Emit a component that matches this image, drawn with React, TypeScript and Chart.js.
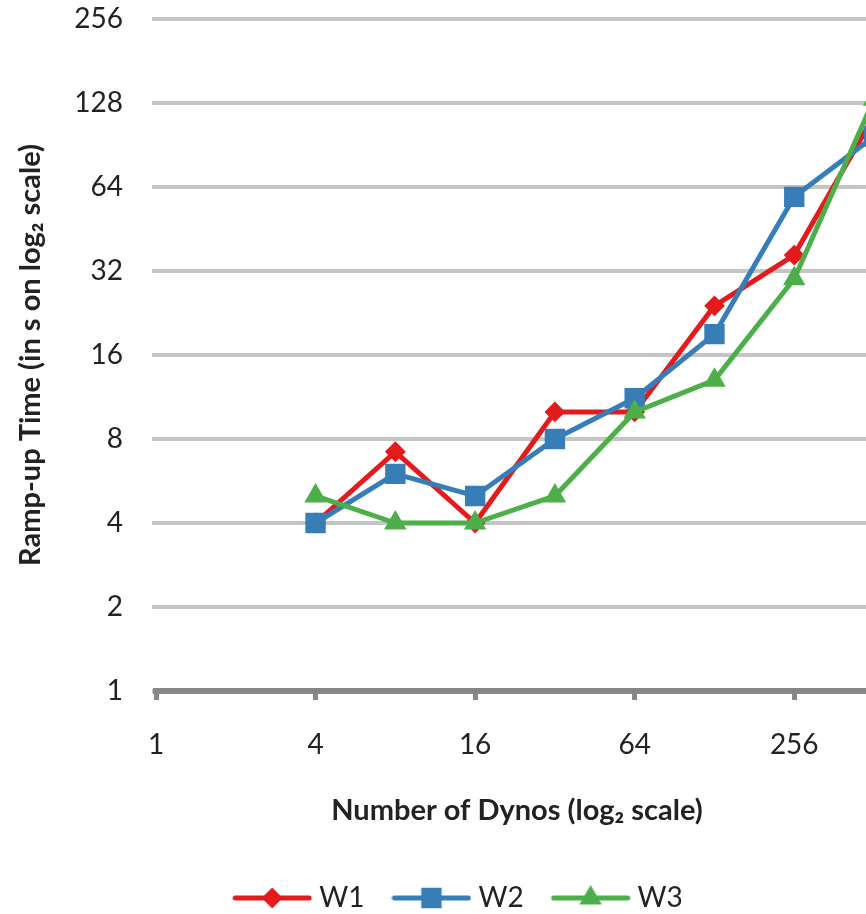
import React, { useEffect, useRef } from "react";
import { Chart, registerables } from "chart.js";
import { drawPoint } from "chart.js/helpers";

Chart.register(...registerables);

// ---- data ----
const dynos = [4, 8, 16, 32, 64, 128, 256, 512];
const w1 = [4, 7.2, 4, 10, 10, 24, 36.5, 115];
const w2 = [4, 6, 5, 8, 11.2, 19, 59, 97];
const w3 = [5, 4, 4, 5, 10, 13, 30, 132];
const seriesNames = ["W1", "W2", "W3"];
const xTicks = [1, 4, 16, 64, 256];
const yTicks = [1, 2, 4, 8, 16, 32, 64, 128, 256];

const RED = "#e41a1c";
const BLUE = "#377eb8";
const GREEN = "#4daf4a";
const TEXT = "#222222";

function makeIcon(color: string, style: string, radius: number) {
  const c = document.createElement("canvas");
  c.width = 80;
  c.height = 30;
  const ctx = c.getContext("2d")!;
  ctx.strokeStyle = color;
  ctx.fillStyle = color;
  ctx.lineWidth = 5;
  ctx.lineCap = "round";
  ctx.beginPath();
  ctx.moveTo(3, 15);
  ctx.lineTo(77, 15);
  ctx.stroke();
  ctx.lineWidth = 2;
  drawPoint(ctx, { pointStyle: style, radius, borderWidth: 2, rotation: 0 } as any, 40, 15);
  return c;
}

export default function App() {
  const ref = useRef<HTMLCanvasElement>(null);

  useEffect(() => {
    if (!ref.current) return;
    Chart.defaults.font.family = "Lato";
    const styles = [
      { color: RED, style: "rectRot", r: 9 },
      { color: BLUE, style: "rect", r: 13 },
      { color: GREEN, style: "triangle", r: 11 },
    ];
    const values = [w1, w2, w3];
    const icons = styles.map((s) => makeIcon(s.color, s.style, s.r));

    const chart = new Chart(ref.current, {
      type: "line",
      data: {
        datasets: values.map((vals, i) => ({
          label: seriesNames[i],
          data: dynos.map((x, j) => ({ x, y: vals[j] })),
          borderColor: styles[i].color,
          backgroundColor: styles[i].color,
          borderWidth: 5,
          borderJoinStyle: "round",
          borderCapStyle: "round",
          pointStyle: styles[i].style,
          pointRadius: styles[i].r,
          pointHoverRadius: styles[i].r,
          pointBackgroundColor: styles[i].color,
          pointBorderColor: styles[i].color,
          pointBorderWidth: 2,
          tension: 0,
          order: 3 - i,
        })) as any,
      },
      options: {
        animation: false,
        responsive: false,
        devicePixelRatio: 1,
        layout: { padding: { top: 19, left: 0, right: 0, bottom: 0 } },
        plugins: {
          tooltip: { enabled: false },
          legend: {
            position: "bottom",
            labels: {
              usePointStyle: true,
              pointStyleWidth: 66,
              padding: 34,
              color: TEXT,
              font: { size: 28, family: "Lato" },
              generateLabels: () =>
                seriesNames.map((n, i) => ({
                  text: n,
                  pointStyle: icons[i] as any,
                  fillStyle: styles[i].color,
                  strokeStyle: styles[i].color,
                  lineWidth: 0,
                  hidden: false,
                  datasetIndex: i,
                  fontColor: TEXT,
                })),
            },
          },
        },
        scales: {
          x: {
            type: "logarithmic",
            min: 1,
            max: 530,
            afterBuildTicks: (axis: any) => {
              axis.ticks = xTicks.map((v) => ({ value: v }));
            },
            afterFit: (axis: any) => {
              axis.height = 159;
              axis.paddingLeft = 0;
              axis.paddingRight = 0;
            },
            ticks: {
              autoSkip: false,
              maxRotation: 0,
              padding: 28,
              color: TEXT,
              font: { size: 28, family: "Lato" },
              callback: (v: any) => String(v),
            },
            grid: {
              drawOnChartArea: false,
              drawTicks: true,
              tickLength: 9,
              tickWidth: 5,
              tickColor: "#878787",
            },
            border: { display: true, color: "#878787", width: 6 },
            title: {
              display: true,
              text: "Number of Dynos (log₂ scale)",
              color: TEXT,
              font: { size: 29, weight: "bold", family: "Lato" },
              padding: { top: 0, bottom: 22 },
            },
          },
          y: {
            type: "logarithmic",
            position: "left",
            min: 1,
            max: 256,
            afterBuildTicks: (axis: any) => {
              axis.ticks = yTicks.map((v) => ({ value: v }));
            },
            afterFit: (axis: any) => {
              axis.width = 156;
              axis.paddingTop = 0;
              axis.paddingBottom = 0;
            },
            ticks: {
              padding: 29,
              color: TEXT,
              font: { size: 28, family: "Lato" },
              callback: (v: any) => String(v),
            },
            grid: {
              color: "#c4c4c4",
              lineWidth: 4,
              drawTicks: true,
              tickLength: 4,
              tickColor: "#c4c4c4",
            },
            border: { display: false },
            title: {
              display: true,
              text: "Ramp-up Time (in s on log₂ scale)",
              color: TEXT,
              font: { size: 29, weight: "bold", family: "Lato" },
              padding: { top: 13, bottom: 0 },
            },
          },
          yR: {
            type: "linear",
            position: "right",
            display: true,
            afterFit: (axis: any) => {
              axis.width = 44;
              axis.paddingTop = 0;
              axis.paddingBottom = 0;
            },
            ticks: { display: false },
            grid: { display: false, drawTicks: false },
            border: { display: false },
            title: { display: false },
          },
        },
      } as any,
    });
    return () => chart.destroy();
  }, []);

  return (
    <div
      style={{
        position: "fixed",
        left: 0,
        top: 0,
        width: 866,
        height: 914,
        overflow: "hidden",
        background: "#ffffff",
      }}
    >
      <canvas ref={ref} width={922} height={922} style={{ display: "block" }} />
    </div>
  );
}
